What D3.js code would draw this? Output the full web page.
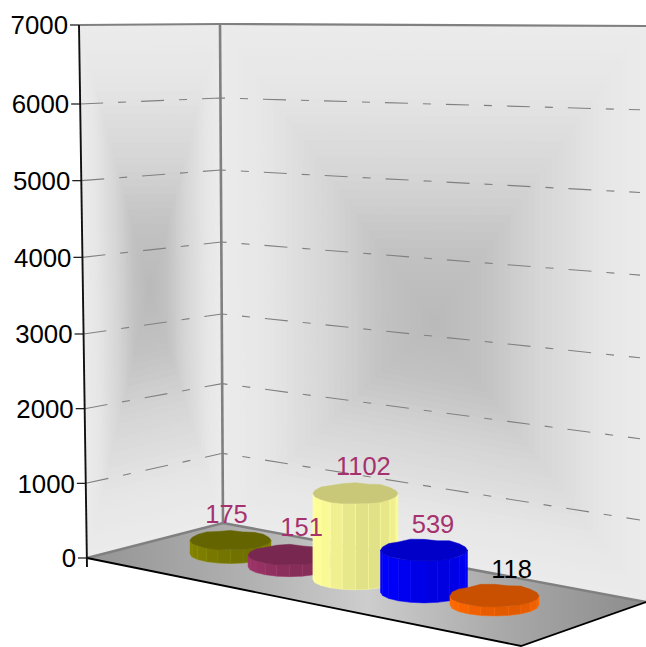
<!DOCTYPE html>
<html>
<head>
<meta charset="utf-8">
<script src="https://cdn.jsdelivr.net/npm/d3@7"></script>
<style>
  html, body { margin: 0; padding: 0; background: #fff; }
  text { font-family: "Liberation Sans", Arial, sans-serif; }
</style>
</head>
<body>
<div id="chart"></div>
<script>
// Chart data
const yTicks = [0, 1000, 2000, 3000, 4000, 5000, 6000, 7000];
const values = [175, 151, 1102, 539, 118];
const barColors = ['#808000', '#993366', '#ffff99', '#0000ff', '#ff6600'];
const labelColors = ['#a5326e', '#a5326e', '#a5326e', '#a5326e', '#000000'];
const rimBumps = [0, 0.06, -0.04, 0.09, 0.02, -0.07, 0.1, 0.04, -0.05, 0.09, 0, -0.06, 0.07, 0.1, -0.02, 0.05, -0.07, 0.04, 0.08, -0.04];

const width = 646, height = 647;
const svg = d3.select('#chart').append('svg')
  .attr('width', width)
  .attr('height', height);

// Corners of the box, as seen in the picture
const frontTop = [79, 25], frontBottom = [87, 558];
const backTop = [220, 24], backBottom = [223, 523];
const rightTop = [646, 26], rightBottom = [646, 602];
const floorFront = [521, 646];

// Perspective squeezes the value axis a little, so each edge has its own scale
const knots = [0, 3000, 6000, 7000];
const yFront = d3.scaleLinear().domain(knots).range([558, 334, 104, 25]);
const yBack = d3.scaleLinear().domain(knots).range([523, 314, 98, 24]);
const yRight = d3.scaleLinear().domain(knots).range([602, 358, 110, 26]);
const xFront = d3.scaleLinear().domain([0, 7000]).range([87, 79]);
const xBack = d3.scaleLinear().domain([0, 7000]).range([223, 220]);

const line = d3.line();

// Rectangular gradient: nested polygons shrinking towards a centre point
function nestedFill(corners, center, color, steps=36) {
  const g = svg.append('g');
  for (const i of d3.range(steps)) {
    const t = i / steps;
    const pts = corners.map(c => [c[0] + (center[0] - c[0]) * t, c[1] + (center[1] - c[1]) * t]);
    g.append('path')
      .attr('d', line(pts) + 'Z')
      .attr('fill', color(t));
  }
}

const wallShade = d3.scaleLinear()
  .domain([0, 0.2, 0.5, 0.75, 1])
  .range(['#ebebeb', '#e6e6e6', '#d5d5d5', '#c2c2c2', '#b9b9b9']);

nestedFill([frontTop, backTop, backBottom, frontBottom], [150, 290], wallShade);
nestedFill([backTop, rightTop, rightBottom, backBottom], [434, 322], wallShade);

// Floor shading runs along its long side, lightest under the middle bar
const floorGrad = svg.append('defs').append('linearGradient')
  .attr('id', 'floorGrad')
  .attr('gradientUnits', 'userSpaceOnUse')
  .attr('x1', frontBottom[0]).attr('y1', 0)
  .attr('x2', rightBottom[0]).attr('y2', 0);
[[0, '#949494'], [0.3, '#b2b2b2'], [0.5, '#cdcdcd'], [0.75, '#a8a8a8'], [1, '#8c8c8c']].forEach(([o, c]) => {
  floorGrad.append('stop').attr('offset', o).attr('stop-color', c);
});
svg.append('path')
  .attr('d', line([frontBottom, backBottom, rightBottom, floorFront]) + 'Z')
  .attr('fill', 'url(#floorGrad)');

// Gridlines run across both walls
yTicks.filter(v => v > 0 && v < 7000).forEach(v => {
  svg.append('path')
    .attr('d', line([[xFront(v), yFront(v)], [xBack(v), yBack(v)], [640, yRight(v) - 0.6 * (v < 3000 ? 1 : 0.3)]]))
    .attr('fill', 'none')
    .attr('stroke', '#808080')
    .attr('stroke-width', 1.1)
    .attr('stroke-dasharray', '23 15 8 15');
});

// Frame
function frameLine(pts, stroke, w) {
  svg.append('path')
    .attr('d', line(pts))
    .attr('fill', 'none')
    .attr('stroke', stroke)
    .attr('stroke-width', w);
}
frameLine([frontTop, backTop, rightTop], '#808080', 2.2);
frameLine([backTop, backBottom], '#808080', 2.6);
frameLine([frontBottom, backBottom, rightBottom], '#808080', 2.6);
frameLine([frontBottom, floorFront, rightBottom], '#000', 1.8);
frameLine([frontTop, [frontBottom[0], 567]], '#111', 1.9);

// Value axis
yTicks.forEach(v => {
  const x = xFront(v), y = yFront(v);
  svg.append('line')
    .attr('x1', x - 9).attr('x2', x)
    .attr('y1', y).attr('y2', y)
    .attr('stroke', '#111')
    .attr('stroke-width', 1.2);
  svg.append('text')
    .attr('x', x - 11)
    .attr('y', y)
    .attr('dy', '0.36em')
    .attr('text-anchor', 'end')
    .attr('font-size', 25.8)
    .attr('fill', '#000')
    .text(v);
});

// Cylinders stand on a line across the floor, drifting towards the viewer
const last = values.length - 1;
const xBar = d3.scalePow().exponent(1.08).domain([0, last]).range([230.5, 494.5]);
const yBar = d3.scaleLinear().domain([0, last]).range([554, 605]);
const rxBar = d3.scaleLinear().domain([0, last]).range([40.5, 44.5]);
const ryBar = d3.scaleLinear().domain([0, last]).range([9.5, 11]);
const heightBar = d3.scaleLinear().domain([0, 7000]).range([0, 546]);
const labelNudge = [[-4, -40], [12, -40], [8, -114], [9, -68], [17, -36]];

const facets = 20;
values.forEach((value, i) => {
  const cx = xBar(i), cy = yBar(i), rx = rxBar(i), ry = ryBar(i);
  const h = heightBar(value);
  const g = svg.append('g');
  const base = barColors[i];

  // Side facets over the front half, brightest a bit right of the middle
  for (const k of d3.range(facets / 2)) {
    const a0 = Math.PI * k / (facets / 2), a1 = Math.PI * (k + 1) / (facets / 2);
    const mid = (a0 + a1) / 2;
    const lit = 1 - 0.12 * Math.pow(Math.abs(Math.cos(mid - 1.25)), 2);
    const col = d3.color(base);
    const fill = d3.rgb(col.r * lit, col.g * lit, col.b * lit);
    const quad = [
      [cx + rx * Math.cos(a0), cy + ry * Math.sin(a0)],
      [cx + rx * Math.cos(a1), cy + ry * Math.sin(a1)],
      [cx + rx * Math.cos(a1), cy - h + ry * Math.sin(a1)],
      [cx + rx * Math.cos(a0), cy - h + ry * Math.sin(a0)]
    ];
    g.append('path')
      .attr('d', line(quad) + 'Z')
      .attr('fill', fill)
      .attr('stroke', d3.color(fill).brighter(0.3))
      .attr('stroke-width', 0.5);
  }

  // Top, with the slightly uneven rim of the original
  const rim = d3.range(facets).map(k => {
    const a = 2 * Math.PI * k / facets;
    const bump = 1 + rimBumps[(k + i * 3) % rimBumps.length] * (Math.sin(a) < 0 ? 1 : 0.4);
    return [cx + rx * Math.cos(a), cy - h + ry * bump * Math.sin(a)];
  });
  g.append('path')
    .attr('d', line(rim) + 'Z')
    .attr('fill', d3.color(base).darker(0.68))
    .attr('stroke', d3.color(base).darker(0.68))
    .attr('stroke-width', 0.5);
});

// Value labels go over everything
values.forEach((value, i) => {
  svg.append('text')
    .attr('x', xBar(i) + labelNudge[i][0])
    .attr('y', yBar(i) + labelNudge[i][1])
    .attr('dy', '0.36em')
    .attr('text-anchor', 'middle')
    .attr('font-size', 25.5)
    .attr('fill', labelColors[i])
    .text(value);
});
</script>
</body>
</html>
